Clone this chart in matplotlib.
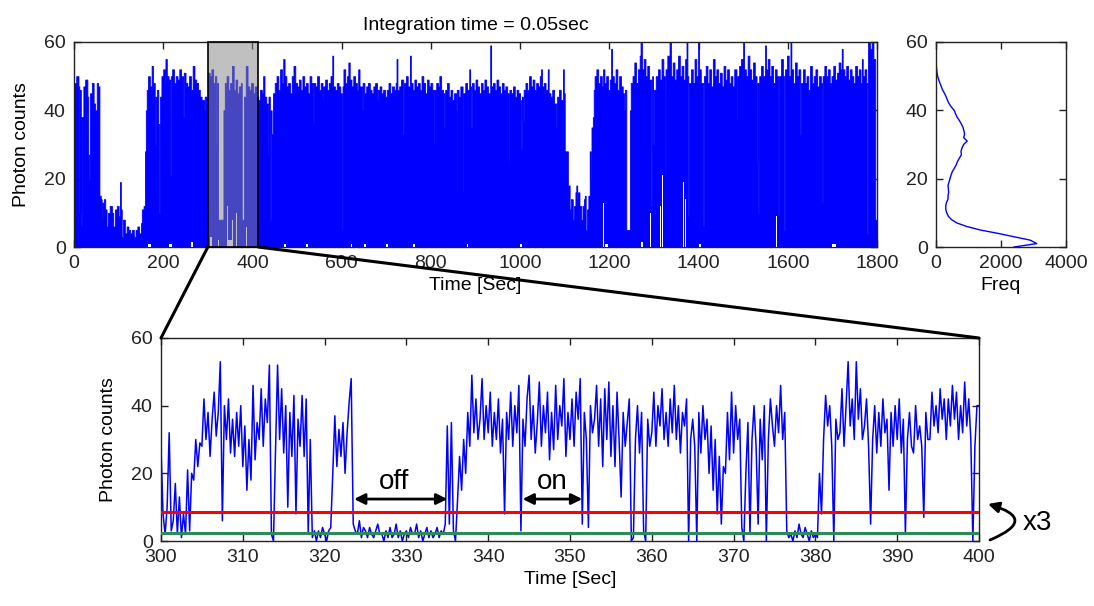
import numpy as np
import matplotlib
matplotlib.use('Agg')
import matplotlib.pyplot as plt
from matplotlib.patches import Rectangle, ConnectionPatch

plt.rcParams['font.family'] = ['Liberation Sans', 'DejaVu Sans']
plt.rcParams['font.size'] = 14

# ---------------- data ----------------
# upper envelope of the full 1800 s trace (value holds until the next time)
top_t = [
    0, 5, 10, 12, 14, 15, 17, 21, 25, 30,
    32, 34, 36, 40, 44, 47, 51, 54, 57, 60,
    62, 64, 67, 70, 73, 76, 80, 85, 88, 92,
    96, 100, 103, 105, 107, 110, 114, 118, 122, 126,
    130, 134, 138, 142, 146, 150, 152, 156, 159, 161,
    163, 166, 170, 174, 177, 181, 183, 186, 189, 191,
    193, 196, 200, 203, 205, 208, 212, 215, 217, 220,
    224, 228, 232, 236, 240, 244, 246, 250, 254, 258,
    262, 266, 270, 274, 278, 282, 286, 291, 293, 297,
    300, 304, 308, 312, 316, 319, 321, 323, 335, 338,
    342, 346, 350, 354, 358, 362, 366, 370, 374, 376,
    381, 385, 389, 393, 397, 401, 405, 409, 413, 417,
    421, 424, 427, 431, 434, 436, 439, 441, 443, 446,
    450, 454, 458, 462, 466, 469, 472, 476, 480, 484,
    488, 492, 496, 500, 504, 508, 512, 516, 520, 524,
    528, 532, 535, 537, 541, 545, 549, 553, 557, 559,
    563, 567, 571, 575, 579, 581, 585, 589, 593, 597,
    600, 602, 604, 608, 612, 615, 618, 622, 626, 630,
    634, 637, 640, 645, 647, 651, 655, 659, 663, 667,
    671, 675, 679, 681, 685, 689, 693, 697, 701, 705,
    709, 713, 717, 721, 723, 725, 729, 733, 738, 740,
    744, 748, 753, 755, 759, 763, 767, 771, 775, 779,
    783, 787, 791, 795, 799, 803, 806, 808, 812, 816,
    819, 823, 827, 830, 832, 836, 840, 844, 848, 852,
    856, 858, 862, 866, 871, 873, 877, 881, 886, 888,
    890, 892, 896, 900, 904, 908, 912, 916, 920, 924,
    928, 933, 935, 939, 943, 947, 951, 955, 959, 963,
    967, 971, 974, 976, 980, 984, 988, 992, 996, 1000,
    1002, 1004, 1006, 1008, 1012, 1016, 1020, 1024, 1028, 1032,
    1036, 1040, 1044, 1047, 1049, 1053, 1057, 1062, 1064, 1068,
    1072, 1076, 1081, 1083, 1087, 1091, 1096, 1098, 1100, 1107,
    1111, 1114, 1118, 1121, 1124, 1126, 1128, 1130, 1133, 1137,
    1140, 1143, 1145, 1147, 1150, 1153, 1156, 1158, 1160, 1163,
    1165, 1167, 1171, 1175, 1179, 1183, 1186, 1189, 1193, 1197,
    1201, 1204, 1206, 1210, 1214, 1218, 1222, 1226, 1230, 1233,
    1235, 1238, 1246, 1248, 1252, 1256, 1260, 1264, 1268, 1270,
    1273, 1277, 1281, 1285, 1289, 1294, 1296, 1298, 1300, 1304,
    1309, 1313, 1317, 1321, 1324, 1326, 1330, 1335, 1338, 1342,
    1346, 1350, 1354, 1358, 1362, 1366, 1370, 1373, 1375, 1377,
    1379, 1383, 1387, 1391, 1395, 1399, 1401, 1405, 1410, 1412,
    1416, 1420, 1424, 1428, 1432, 1436, 1440, 1444, 1448, 1452,
    1456, 1460, 1464, 1468, 1472, 1476, 1480, 1485, 1487, 1491,
    1495, 1500, 1502, 1506, 1510, 1514, 1518, 1522, 1526, 1530,
    1532, 1534, 1536, 1540, 1544, 1549, 1551, 1555, 1559, 1563,
    1567, 1571, 1575, 1579, 1581, 1585, 1589, 1592, 1594, 1598,
    1602, 1606, 1608, 1612, 1616, 1620, 1624, 1628, 1630, 1634,
    1638, 1642, 1646, 1650, 1654, 1658, 1662, 1666, 1670, 1674,
    1676, 1678, 1682, 1686, 1690, 1694, 1698, 1702, 1706, 1710,
    1714, 1718, 1721, 1723, 1727, 1731, 1735, 1739, 1743, 1747,
    1751, 1755, 1759, 1763, 1766, 1768, 1772, 1776, 1778, 1780,
    1784, 1788, 1792, 1796, 1800,
]
top_hi = [
    48, 50, 47, 10, 46, 6, 38, 47, 49, 44,
    27, 20, 45, 48, 42, 40, 48, 47, 15, 14,
    8, 13, 14, 11, 6, 10, 12, 10, 6, 11,
    12, 9, 19, 11, 3, 8, 4, 6, 5, 4,
    5, 3, 5, 6, 4, 7, 11, 12, 28, 40,
    46, 50, 47, 53, 48, 30, 44, 46, 36, 10,
    44, 50, 52, 48, 55, 50, 49, 21, 50, 52,
    48, 50, 49, 52, 50, 38, 51, 48, 47, 50,
    46, 53, 49, 48, 46, 44, 43, 40, 44, 42,
    51, 50, 52, 48, 50, 30, 48, 8, 40, 48,
    50, 46, 48, 53, 46, 49, 45, 47, 48, 8,
    44, 53, 47, 46, 48, 45, 47, 44, 43, 46,
    45, 50, 44, 42, 27, 44, 8, 40, 33, 45,
    48, 50, 46, 52, 48, 55, 50, 47, 48, 45,
    50, 53, 48, 47, 49, 46, 50, 47, 48, 45,
    50, 48, 36, 48, 47, 50, 46, 48, 43, 47,
    49, 46, 48, 50, 56, 47, 46, 48, 47, 45,
    5, 47, 52, 48, 50, 54, 49, 47, 50, 48,
    46, 52, 47, 40, 48, 45, 47, 48, 46, 45,
    47, 48, 43, 46, 47, 45, 46, 44, 46, 48,
    45, 47, 46, 48, 55, 46, 47, 49, 33, 48,
    50, 47, 56, 48, 46, 49, 47, 48, 46, 50,
    48, 45, 49, 47, 48, 46, 30, 46, 48, 47,
    50, 46, 45, 35, 46, 48, 44, 46, 43, 45,
    40, 46, 44, 47, 16, 45, 48, 46, 52, 47,
    35, 48, 46, 49, 47, 45, 48, 46, 49, 47,
    45, 59, 47, 48, 46, 49, 47, 45, 48, 46,
    47, 45, 25, 46, 45, 47, 44, 46, 45, 43,
    29, 44, 37, 46, 48, 46, 50, 47, 49, 46,
    48, 47, 50, 52, 47, 48, 46, 52, 45, 44,
    46, 42, 35, 44, 46, 43, 52, 45, 28, 18,
    11, 14, 8, 12, 16, 18, 14, 16, 12, 8,
    12, 14, 15, 5, 11, 15, 28, 20, 35, 38,
    46, 50, 52, 48, 50, 47, 52, 48, 50, 46,
    49, 58, 50, 48, 52, 46, 50, 47, 45, 40,
    46, 5, 40, 48, 50, 54, 48, 52, 56, 60,
    52, 55, 50, 53, 49, 12, 50, 30, 46, 50,
    52, 49, 55, 50, 21, 52, 56, 60, 50, 54,
    49, 52, 56, 50, 53, 49, 55, 60, 50, 9,
    48, 52, 48, 55, 50, 60, 52, 48, 6, 50,
    53, 48, 52, 47, 55, 50, 52, 48, 51, 47,
    53, 49, 52, 48, 50, 47, 52, 37, 50, 53,
    55, 60, 52, 50, 56, 52, 49, 54, 50, 25,
    48, 10, 50, 53, 50, 59, 52, 55, 50, 53,
    48, 52, 50, 9, 50, 55, 50, 5, 52, 56,
    50, 60, 52, 48, 54, 50, 52, 33, 48, 52,
    48, 50, 46, 53, 48, 50, 52, 47, 50, 48,
    13, 50, 53, 50, 52, 48, 50, 53, 49, 51,
    54, 52, 58, 52, 50, 53, 49, 52, 50, 48,
    53, 50, 52, 48, 55, 50, 52, 48, 4, 60,
    58, 60, 55, 8, 6,
]
# stretches where the trace never reaches zero (white gaps from the bottom)
top_lo_t = [0, 165, 172, 213, 220, 262, 266, 305, 309, 322,
            325, 343, 345, 355, 357, 363, 365, 386, 388, 470,
            475, 520, 524, 620, 624, 650, 654, 700, 704, 760,
            764, 880, 884, 1000, 1004, 1186, 1188, 1190, 1196, 1270,
            1276, 1291, 1293, 1313, 1315, 1319, 1321, 1365, 1367, 1370,
            1372, 1400, 1406, 1573, 1575, 1700, 1708, 1800]
top_lo = [0, 1, 0, 1, 0, 1.5, 0, 3, 0, 2,
          0, 12, 2, 8, 0, 10, 0, 6, 0, 1,
          0, 1, 0, 1, 0, 1, 0, 1, 0, 1,
          0, 1, 0, 1, 0, 13, 0, 1, 0, 1.5,
          0, 10, 0, 12, 0, 21, 0, 19, 0, 14,
          0, 1, 0, 9, 0, 1, 0, 0]

# intensity histogram
hist_counts = list(range(0, 61))
hist_freq = [2400, 3100, 2900, 2400, 1900, 1350, 950, 650, 480, 380,
             330, 300, 300, 320, 370, 370, 390, 380, 370, 400,
             430, 460, 500, 560, 620, 660, 720, 780, 770, 800,
             850, 960, 850, 880, 860, 830, 780, 720, 650, 600,
             560, 470, 400, 350, 310, 260, 200, 160, 120, 80,
             50, 30, 20, 10, 5, 2, 0, 0, 0, 0, 0]

# zoomed trace 300-400 s, sampled every 0.25 s
zoom_start, zoom_step = 300, 0.25
zoom_y = [
    28, 8, 2, 10, 32, 3, 6, 17, 2, 13, 1, 8, 2, 21, 3, 20, 18, 30, 22, 29,
    28, 42, 30, 38, 25, 36, 44, 31, 38, 53, 6, 40, 30, 42, 26, 36, 25, 38, 28, 40,
    22, 34, 15, 30, 18, 46, 24, 35, 30, 45, 28, 42, 35, 52, 2, 0, 27, 52, 30, 45,
    26, 40, 10, 38, 25, 43, 8, 36, 28, 43, 25, 42, 2, 30, 1, 3, 0, 3, 1, 4,
    2, 0, 3, 4, 20, 37, 22, 33, 25, 35, 20, 32, 41, 48, 5, 3, 2, 6, 1, 4,
    3, 1, 4, 2, 1, 3, 5, 2, 2, 0, 3, 1, 4, 1, 2, 5, 1, 3, 0, 2,
    3, 1, 4, 2, 2, 5, 1, 3, 0, 2, 4, 1, 3, 1, 2, 4, 1, 3, 2, 5,
    34, 5, 35, 3, 0, 12, 25, 15, 30, 20, 38, 28, 49, 32, 42, 30, 36, 48, 30, 40,
    32, 44, 28, 38, 30, 42, 26, 36, 8, 38, 30, 44, 28, 40, 32, 46, 3, 36, 28, 42,
    49, 30, 40, 26, 35, 47, 28, 40, 32, 44, 24, 38, 27, 46, 30, 40, 34, 48, 25, 38,
    30, 42, 28, 44, 36, 48, 5, 38, 30, 4, 40, 32, 36, 46, 28, 42, 22, 45, 30, 47,
    25, 40, 22, 44, 30, 13, 38, 28, 35, 42, 0, 1, 30, 40, 26, 38, 3, 0, 36, 28,
    32, 44, 28, 40, 34, 45, 30, 38, 28, 42, 32, 46, 30, 40, 26, 38, 34, 42, 0, 30,
    36, 28, 0, 38, 26, 40, 30, 36, 20, 34, 15, 30, 8, 25, 5, 22, 20, 38, 24, 44,
    26, 40, 30, 36, 4, 0, 20, 35, 2, 30, 40, 28, 5, 36, 24, 40, 0, 30, 42, 34,
    28, 40, 32, 46, 30, 38, 3, 1, 2, 0, 3, 1, 5, 2, 1, 4, 2, 0, 3, 1,
    2, 1, 20, 8, 30, 43, 34, 40, 28, 0, 36, 30, 32, 45, 28, 40, 53, 34, 42, 30,
    53, 36, 45, 30, 34, 42, 28, 5, 30, 40, 26, 38, 28, 42, 32, 36, 15, 38, 28, 40,
    30, 42, 26, 36, 2, 30, 38, 28, 26, 40, 30, 34, 28, 7, 38, 30, 30, 44, 34, 40,
    32, 45, 36, 42, 30, 42, 34, 46, 36, 44, 30, 40, 32, 47, 34, 42, 30, 0, 28, 40,
    40,
]
zoom_box = (300, 413)          # highlighted window on the full trace
thr_low, thr_high = 2.4, 8.6   # green and red thresholds
off_span = (323.6, 335.0)
on_span = (344.2, 351.5)

BLUE = '#0000ff'

# ---------------- figure ----------------
fig = plt.figure(figsize=(10.94, 6.06), dpi=100)
ax_top = fig.add_axes([74 / 1094, 1 - 247 / 606, 803 / 1094, 205 / 606])
ax_hist = fig.add_axes([936 / 1094, 1 - 247 / 606, 130 / 1094, 205 / 606])
ax_bot = fig.add_axes([161 / 1094, 1 - 541 / 606, 818 / 1094, 203 / 606])


def style(ax):
    ax.tick_params(direction='in', top=True, right=True, length=5, width=1,
                   labelsize=14, pad=6, colors='#222222')
    for s in ax.spines.values():
        s.set_linewidth(1.0)
        s.set_color('#222222')


# top: full trace
ax_top.fill_between(top_t, 0, top_hi, step='post', color=BLUE, lw=0.6,
                    edgecolor=BLUE, zorder=2)
ax_top.fill_between(top_lo_t, 0, top_lo, step='post', color='white', lw=0,
                    zorder=3)
ax_top.add_patch(Rectangle((zoom_box[0], 0), zoom_box[1] - zoom_box[0], 60,
                           facecolor=(0.53, 0.53, 0.53, 0.52), edgecolor='k',
                           lw=1.2, zorder=4, clip_on=False))
ax_top.set_xlim(0, 1800)
ax_top.set_ylim(0, 60)
ax_top.set_xticks(range(0, 1801, 200))
ax_top.set_yticks([0, 20, 40, 60])
ax_top.set_xlabel('Time [Sec]', labelpad=3)
ax_top.set_ylabel('Photon counts', labelpad=10)
ax_top.set_title('Integration time = 0.05sec', fontsize=14, pad=9)
style(ax_top)

# histogram
ax_hist.plot(hist_freq, hist_counts, color=BLUE, lw=1)
ax_hist.set_xlim(0, 4000)
ax_hist.set_ylim(0, 60)
ax_hist.set_xticks([0, 2000, 4000])
ax_hist.set_yticks([0, 20, 40, 60])
ax_hist.set_xlabel('Freq', labelpad=3)
style(ax_hist)

# bottom: zoomed trace
zoom_t = zoom_start + zoom_step * np.arange(len(zoom_y))
ax_bot.plot(zoom_t, zoom_y, color=BLUE, lw=1.1, zorder=2)
ax_bot.axhline(thr_high, color='#ff0000', lw=2.2, zorder=3)
ax_bot.axhline(thr_low, color='#2e8b57', lw=2.2, zorder=3)
ax_bot.set_xlim(300, 400)
ax_bot.set_ylim(0, 60)
ax_bot.set_xticks(range(300, 401, 10))
ax_bot.set_yticks([0, 20, 40, 60])
ax_bot.set_xlabel('Time [Sec]', labelpad=3)
ax_bot.set_ylabel('Photon counts', labelpad=10)
style(ax_bot)

# on / off arrows
arrow_kw = dict(arrowstyle='<|-|>', color='k', lw=2, mutation_scale=16,
                shrinkA=0, shrinkB=0)
ax_bot.annotate('', xy=(off_span[0], 12.4), xytext=(off_span[1], 12.4),
                arrowprops=arrow_kw, zorder=5)
ax_bot.text(sum(off_span) / 2 - 0.8, 17.5, 'off', fontsize=20, ha='center',
            va='center', zorder=5)
ax_bot.annotate('', xy=(on_span[0], 12.4), xytext=(on_span[1], 12.4),
                arrowprops=arrow_kw, zorder=5)
ax_bot.text(sum(on_span) / 2, 17.5, 'on', fontsize=20, ha='center',
            va='center', zorder=5)

# zoom connector lines
for (xa, xb) in [(zoom_box[0], 300), (zoom_box[1], 400)]:
    con = ConnectionPatch(xyA=(xa, 0), coordsA=ax_top.transData,
                          xyB=(xb, 60), coordsB=ax_bot.transData,
                          color='k', lw=2.2)
    fig.add_artist(con)

# x3 curved arrow
fig.text(1037 / 1094, 1 - 523 / 606, 'x3', fontsize=20, ha='center',
         va='center')
ax_bot.annotate('', xy=(988 / 1094, 1 - 504 / 606),
                xytext=(990 / 1094, 1 - 540 / 606),
                xycoords='figure fraction', textcoords='figure fraction',
                arrowprops=dict(arrowstyle='-|>', color='k', lw=2,
                                mutation_scale=16, shrinkA=0, shrinkB=0,
                                connectionstyle='arc3,rad=1.4'),
                annotation_clip=False)

fig.savefig('out.png', dpi=100)
